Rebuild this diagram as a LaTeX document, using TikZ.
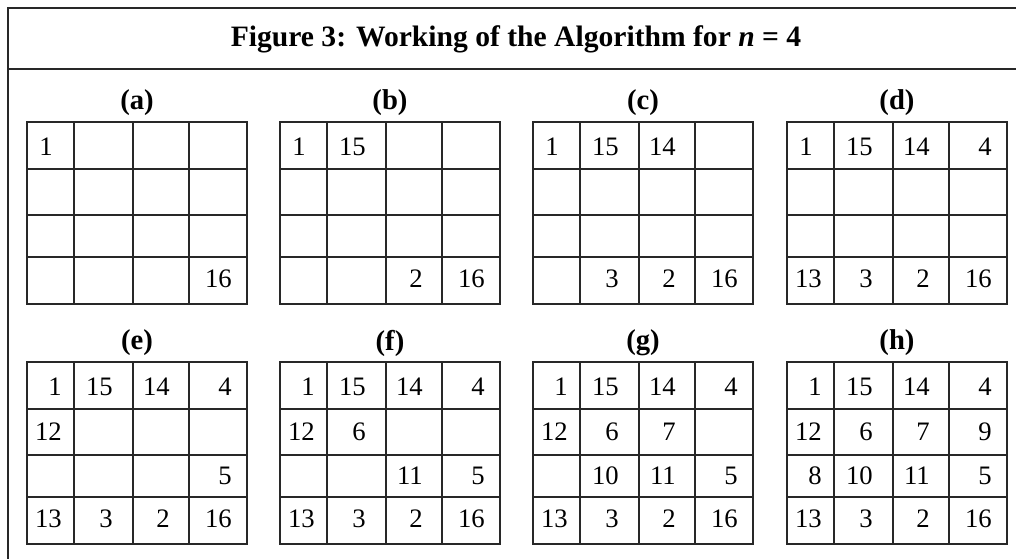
\documentclass[tikz,border=0pt]{standalone}
\usepackage{fontspec}
\setmainfont{Liberation Serif}
\definecolor{rule}{RGB}{40,40,40}

\tikzset{
  gridline/.style={line width=1.1pt, draw=rule},
  frameline/.style={line width=1.5pt, draw=rule},
  headline/.style={font=\fontsize{22.2}{26}\selectfont\bfseries, inner sep=0pt},
  panel/.style={font=\fontsize{21.5}{26}\selectfont\bfseries, inner sep=0pt},
  cell/.style={anchor=east, inner sep=0pt, font=\fontsize{20}{24}\selectfont},
}

% one 4x4 square: x, y of top left corner, panel letter, entries col/row/number
\newcommand{\magicgrid}[4]{%
  \begin{scope}[shift={(#1,#2)}]
    \draw[gridline] (0,0) rectangle (220,182);
    \foreach \x in {47,106,162} \draw[gridline] (\x,0) -- (\x,182);
    \foreach \y in {47,93,135} \draw[gridline] (0,\y) -- (220,\y);
    \node[panel] (lbl-#3) at (110,-19) {(#3)};
    % right edges of the numbers, and row middles
    \coordinate (c1a) at (26,0);
    \coordinate (c1) at (35,0);
    \coordinate (c2) at (86,0);
    \coordinate (c3) at (143,0);
    \coordinate (c4) at (205,0);
    \coordinate (r1) at (0,25);
    \coordinate (r2) at (0,70);
    \coordinate (r3) at (0,114);
    \coordinate (r4) at (0,157);
    \foreach \c/\r/\t in {#4}
      \node[cell] (#3-\c\r) at (c\c |- r\r) {\t};
  \end{scope}}

\begin{document}
\begin{tikzpicture}[x=0.75pt, y=-0.75pt]
  \useasboundingbox (0,0) rectangle (1016,559);

  % frame and title bar
  \draw[frameline] (1016,8) -- (8,8) -- (8,559);
  \draw[frameline] (8,69) -- (1016,69);
  \node[headline, anchor=base] (title) at (516,47)
    {Figure 3: Working of the Algorithm for \textit{n} = 4};

  % first row of squares
  \magicgrid{27}{122}{a}{1a/1/1, 4/4/16}
  \magicgrid{280}{122}{b}{1a/1/1, 2/1/15, 3/4/2, 4/4/16}
  \magicgrid{533}{122}{c}{1a/1/1, 2/1/15, 3/1/14, 2/4/3, 3/4/2, 4/4/16}
  \magicgrid{787}{122}{d}{1a/1/1, 2/1/15, 3/1/14, 4/1/4,
    1/4/13, 2/4/3, 3/4/2, 4/4/16}

  % second row of squares
  \magicgrid{27}{362}{e}{1/1/1, 2/1/15, 3/1/14, 4/1/4, 1/2/12, 4/3/5,
    1/4/13, 2/4/3, 3/4/2, 4/4/16}
  \magicgrid{280}{362}{f}{1/1/1, 2/1/15, 3/1/14, 4/1/4, 1/2/12, 2/2/6,
    3/3/11, 4/3/5, 1/4/13, 2/4/3, 3/4/2, 4/4/16}
  \magicgrid{533}{362}{g}{1/1/1, 2/1/15, 3/1/14, 4/1/4, 1/2/12, 2/2/6,
    3/2/7, 2/3/10, 3/3/11, 4/3/5, 1/4/13, 2/4/3, 3/4/2, 4/4/16}
  \magicgrid{787}{362}{h}{1/1/1, 2/1/15, 3/1/14, 4/1/4, 1/2/12, 2/2/6,
    3/2/7, 4/2/9, 1/3/8, 2/3/10, 3/3/11, 4/3/5, 1/4/13, 2/4/3, 3/4/2, 4/4/16}
\end{tikzpicture}
\end{document}
